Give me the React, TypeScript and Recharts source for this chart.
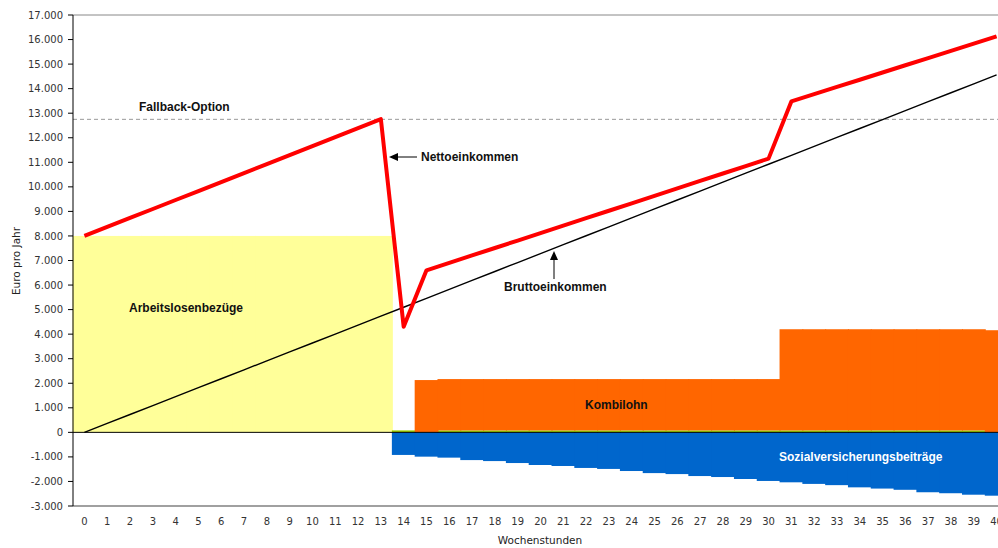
import {
  Bar,
  ComposedChart,
  Line,
  ReferenceLine,
  XAxis,
  YAxis
} from "recharts";

// Wochenstunden 0..40
const hours = [
  0, 1, 2, 3, 4, 5, 6, 7, 8, 9, 10, 11, 12, 13, 14, 15, 16, 17, 18, 19, 20,
  21, 22, 23, 24, 25, 26, 27, 28, 29, 30, 31, 32, 33, 34, 35, 36, 37, 38, 39, 40
];

const arbeitslosenbezuege = [
  8000, 8000, 8000, 8000, 8000, 8000, 8000, 8000, 8000, 8000, 8000, 8000, 8000, 8000,
  0, 0, 0, 0, 0, 0, 0, 0, 0, 0, 0, 0, 0, 0, 0, 0, 0, 0, 0, 0, 0, 0, 0, 0, 0, 0, 0
];

const steuerAnteil = [
  0, 0, 0, 0, 0, 0, 0, 0, 0, 0, 0, 0, 0, 0,
  80, 0, 80, 80, 80, 80, 80, 80, 80, 80, 80, 80, 80, 80, 80, 80, 80,
  80, 80, 80, 80, 80, 80, 80, 80, 80, 0
];

const kombilohn = [
  0, 0, 0, 0, 0, 0, 0, 0, 0, 0, 0, 0, 0, 0,
  0, 2130, 2090, 2090, 2090, 2090, 2090, 2090, 2090, 2090, 2090, 2090, 2090, 2090, 2090, 2090, 2090,
  4120, 4120, 4120, 4120, 4120, 4120, 4120, 4120, 4120, 4160
];

const sozialversicherung = [
  0, 0, 0, 0, 0, 0, 0, 0, 0, 0, 0, 0, 0, 0,
  -920, -990, -1030, -1130, -1170, -1250, -1330, -1370, -1450, -1490, -1575, -1660, -1700,
  -1780, -1820, -1900, -1980, -2035, -2100, -2150, -2240, -2290, -2340, -2440, -2480, -2540, -2580
];

const bruttoeinkommen = [
  0, 364, 728, 1092, 1456, 1820, 2184, 2548, 2912, 3276, 3640, 4004, 4368, 4732, 5096,
  5460, 5824, 6188, 6552, 6916, 7280, 7644, 8008, 8372, 8736, 9100, 9464, 9828, 10192,
  10556, 10920, 11284, 11648, 12012, 12376, 12740, 13104, 13468, 13832, 14196, 14560
];

const nettoeinkommen = [
  8000, 8366, 8732, 9098, 9464, 9830, 10196, 10562, 10928, 11294, 11660, 12026, 12392, 12758,
  4300, 6600, 6903, 7207, 7510, 7813, 8117, 8420, 8723, 9027, 9330, 9633, 9937, 10240, 10543,
  10847, 11150, 13480, 13774, 14069, 14363, 14658, 14952, 15247, 15541, 15836, 16130
];

const fallbackOption = 12750;

const yTicks = [
  -3000, -2000, -1000, 0, 1000, 2000, 3000, 4000, 5000, 6000, 7000, 8000, 9000, 10000,
  11000, 12000, 13000, 14000, 15000, 16000, 17000
];

const data = hours.map((h, i) => ({
  h,
  arbeitslos: arbeitslosenbezuege[i],
  steuer: steuerAnteil[i],
  kombi: kombilohn[i],
  sv: sozialversicherung[i],
  brutto: bruttoeinkommen[i],
  netto: nettoeinkommen[i]
}));

// German thousands separator: 17000 -> "17.000"
const formatEuro = (value: number) => {
  const abs = Math.abs(value);
  const s = abs >= 1000 ? `${Math.floor(abs / 1000)}.${String(abs % 1000).padStart(3, "0")}` : `${abs}`;
  return value < 0 ? `-${s}` : s;
};

// columns touch each other; widen each a hair so no anti-aliased seams show
const SeamlessColumn = (props: any) => {
  const { x, y, width, height, fill } = props;
  if (!width || !height) return null;
  const top = height < 0 ? y + height : y;
  return <rect x={x - 0.4} y={top} width={width + 0.8} height={Math.abs(height)} fill={fill} />;
};

const tickFont = { fontFamily: "DejaVu Sans", fontSize: 10, fill: "#333" };
const noteFont = { fontFamily: "Liberation Sans", fontSize: 12, fontWeight: 700, fill: "#111" };

export default function App() {
  return (
    <div
      style={{
        position: "absolute",
        left: 0,
        top: 0,
        width: 998,
        height: 548,
        overflow: "hidden",
        background: "#fff"
      }}
    >
      <ComposedChart
        width={1008}
        height={548}
        data={data}
        stackOffset="sign"
        barCategoryGap={0}
        barGap={0}
        margin={{ top: 15, right: 0, left: 0, bottom: 0 }}
      >
        <XAxis
          dataKey="h"
          tickLine={false}
          axisLine={false}
          tickSize={0}
          tickMargin={12}
          interval={0}
          height={42}
          tick={tickFont}
        />
        <YAxis
          domain={[-3000, 17000]}
          ticks={yTicks}
          interval={0}
          width={73}
          tickSize={5}
          tickMargin={5}
          tickFormatter={(v) => formatEuro(Number(v))}
          tick={tickFont}
          axisLine={{ stroke: "#000" }}
          tickLine={{ stroke: "#000" }}
        />
        <Bar dataKey="arbeitslos" stackId="a" fill="#FFFF99" shape={SeamlessColumn} isAnimationActive={false} />
        <Bar dataKey="steuer" stackId="a" fill="#99CC00" shape={SeamlessColumn} isAnimationActive={false} />
        <Bar dataKey="kombi" stackId="a" fill="#FF6600" shape={SeamlessColumn} isAnimationActive={false} />
        <Bar dataKey="sv" stackId="a" fill="#0066CC" shape={SeamlessColumn} isAnimationActive={false} />
        <ReferenceLine y={17000} stroke="#888" strokeWidth={1} />
        <ReferenceLine y={-3000} stroke="#a0a0a0" strokeWidth={2} />
        <ReferenceLine y={0} stroke="#000" strokeWidth={1} />
        <ReferenceLine y={fallbackOption} stroke="#999" strokeWidth={1} strokeDasharray="4 3" />
        <Line
          dataKey="brutto"
          type="linear"
          stroke="#000"
          strokeWidth={1.4}
          dot={false}
          isAnimationActive={false}
        />
        <Line
          dataKey="netto"
          type="linear"
          stroke="#FF0000"
          strokeWidth={4}
          strokeLinejoin="round"
          dot={false}
          isAnimationActive={false}
        />
      </ComposedChart>

      {/* annotations and axis titles */}
      <svg
        width={998}
        height={548}
        style={{ position: "absolute", left: 0, top: 0, pointerEvents: "none" }}
      >
        <text x={139} y={111} {...noteFont}>Fallback-Option</text>

        <line x1={397} y1={157} x2={417} y2={157} stroke="#000" strokeWidth={1} />
        <polygon points="389,157 398,153 398,161" fill="#000" />
        <text x={421} y={161} {...noteFont}>Nettoeinkommen</text>

        <line x1={554} y1={258} x2={554} y2={279} stroke="#000" strokeWidth={1} />
        <polygon points="554,251 550,260 558,260" fill="#000" />
        <text x={504} y={291} {...noteFont}>Bruttoeinkommen</text>

        <text x={129} y={312} {...noteFont}>Arbeitslosenbezüge</text>
        <text x={585} y={409} {...noteFont}>Kombilohn</text>
        <text x={779} y={461} {...noteFont} fill="#fff">Sozialversicherungsbeiträge</text>

        <text
          x={19.5}
          y={261}
          transform="rotate(-90 19.5 261)"
          textAnchor="middle"
          fontFamily="DejaVu Sans"
          fontSize={10.5}
          fill="#222"
        >
          Euro pro Jahr
        </text>
        <text x={540} y={544} textAnchor="middle" fontFamily="DejaVu Sans" fontSize={10.5} fill="#222">
          Wochenstunden
        </text>
      </svg>
    </div>
  );
}
